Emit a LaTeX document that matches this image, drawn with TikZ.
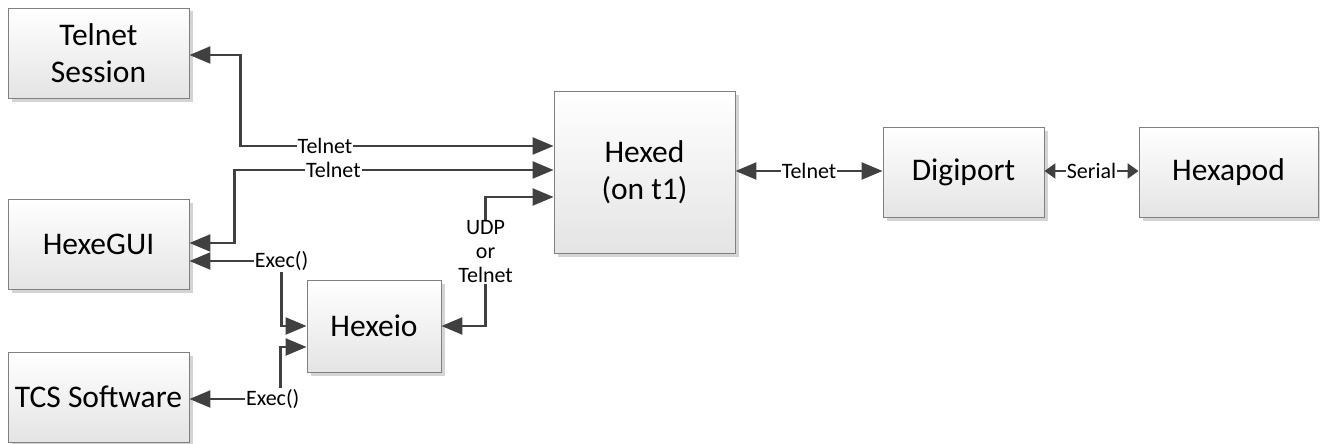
\documentclass[tikz,border=0pt]{standalone}
\usepackage{fontspec}
\setmainfont{Carlito}
\usetikzlibrary{arrows.meta,calc,shadows}
\definecolor{ln}{HTML}{404040}
\definecolor{bx}{HTML}{808080}
\definecolor{bot}{HTML}{E4E4E4}
\definecolor{shd}{HTML}{D4D4D4}
\tikzset{
  blk/.style={draw=bx, line width=0.9pt, top color=white, bottom color=bot,
    inner sep=0pt, align=center, font=\fontsize{31.5}{37}\selectfont,
    drop shadow={shadow xshift=3.5pt, shadow yshift=-3.5pt, fill=shd, opacity=1}},
  conn/.style={draw=ln, line width=2.4pt, {Triangle[length=21pt,width=17pt]}-{Triangle[length=21pt,width=17pt]}},
  sconn/.style={draw=ln, line width=2.4pt, {Triangle[length=11pt,width=15pt]}-{Triangle[length=11pt,width=15pt]}},
  lbl/.style={fill=white, inner sep=1pt, text=black, font=\fontsize{22}{24}\selectfont, align=center}
}
\begin{document}
\begin{tikzpicture}[x=1pt,y=-1pt]
\useasboundingbox (0,0) rectangle (1320,444);
\node[blk, minimum width=181pt, minimum height=90pt] (ts) at (98.5,53) {Telnet\\Session};
\node[blk, minimum width=181pt, minimum height=90pt] (hgui) at (98.5,244) {HexeGUI};
\node[blk, minimum width=181pt, minimum height=90pt] (tcs) at (98.5,397) {TCS Software};
\node[blk, minimum width=134pt, minimum height=92pt] (hexeio) at (374,326) {Hexeio};
\node[blk, minimum width=181pt, minimum height=162pt] (hexed) at (644.5,172) {Hexed\\(on t1)};
\node[blk, minimum width=161pt, minimum height=90pt] (dig) at (963.5,172) {Digiport};
\node[blk, minimum width=179pt, minimum height=90pt] (hpod) at (1228.5,172) {Hexapod};

\draw[conn] ($(ts.east)+(0,2)$) -- ++(51,0) |- node[lbl,pos=0.635] {Telnet} ($(hexed.west)+(0,-26)$);
\draw[conn] ($(hgui.east)+(0,-1)$) -- ++(45,0) |- node[lbl,pos=0.655] {Telnet} ($(hexed.west)+(0,-2)$);
\draw[conn] ($(hgui.east)+(0,17)$) -| node[lbl,pos=0.5] {Exec()} ($(hexeio.west)+(-25,0)$) -- (hexeio.west);
\draw[conn] ($(tcs.east)+(0,2)$) -| node[lbl,pos=0.457] {Exec()} ($(hexeio.west)+(-26,21)$) -- ($(hexeio.west)+(0,21)$);
\draw[conn] (hexeio.east) -| node[lbl,pos=0.787] {UDP\\or\\Telnet} ($(hexed.west)+(-68,25)$) -- ($(hexed.west)+(0,25)$);
\draw[conn] ($(hexed.east)+(0,-1)$) -- node[lbl] {Telnet} ($(dig.west)+(0,-1)$);
\draw[sconn] ($(dig.east)+(0,-1)$) -- node[lbl] {Serial} ($(hpod.west)+(0,-1)$);
\end{tikzpicture}
\end{document}
